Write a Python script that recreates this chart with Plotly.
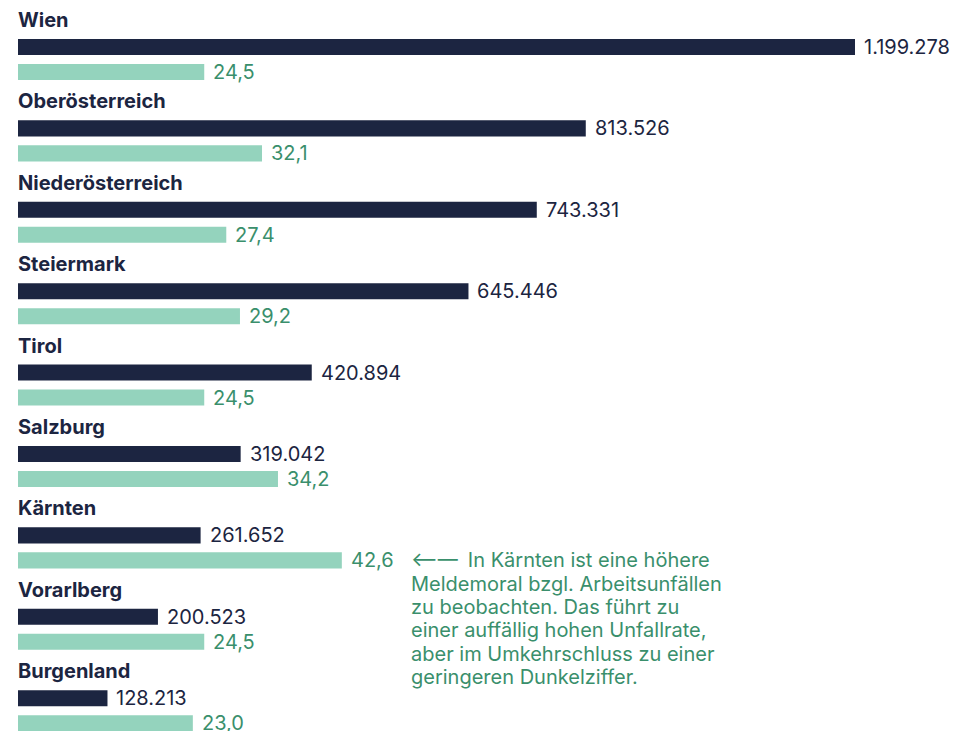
import plotly.graph_objects as go

regions = ["Wien", "Oberösterreich", "Niederösterreich", "Steiermark", "Tirol",
           "Salzburg", "Kärnten", "Vorarlberg", "Burgenland"]
workers = [1199278, 813526, 743331, 645446, 420894, 319042, 261652, 200523, 128213]
rates = [24.5, 32.1, 27.4, 29.2, 24.5, 34.2, 42.6, 24.5, 23.0]
note_lines = ["⟵—\u2002In Kärnten ist eine höhere",
              "Meldemoral bzgl. Arbeitsunfällen",
              "zu beobachten. Das führt zu",
              "einer auffällig hohen Unfallrate,",
              "aber im Umkehrschluss zu einer",
              "geringeren Dunkelziffer."]
note_region = "Kärnten"

DARK = "#1c2541"
GREEN_BAR = "#94d3bd"
GREEN_TXT = "#3a8f6c"
FONT = "Inter"

idx = list(range(len(regions)))
y_dark = [i for i in idx]
y_green = [i + 0.307 for i in idx]
y_title = [i - 0.332 for i in idx]

fig = go.Figure()
fig.add_trace(go.Bar(x=workers, y=y_dark, orientation="h", width=0.197,
                     marker=dict(color=DARK, line=dict(width=0)),
                     xaxis="x", yaxis="y", hoverinfo="skip"))
fig.add_trace(go.Bar(x=rates, y=y_green, orientation="h", width=0.197,
                     marker=dict(color=GREEN_BAR, line=dict(width=0)),
                     xaxis="x2", yaxis="y", hoverinfo="skip"))

def fmt_int(v):
    return f"{v:,}".replace(",", ".")

def fmt_rate(v):
    return f"{v:.1f}".replace(".", ",")

ann = []
for i, r in enumerate(regions):
    ann.append(dict(x=0, y=y_title[i], xref="x", yref="y", text=f"<b>{r}</b>",
                    showarrow=False, xanchor="left", yanchor="middle", xshift=-2,
                    font=dict(family=FONT, size=20, color=DARK)))
    ann.append(dict(x=workers[i], y=y_dark[i], xref="x", yref="y",
                    text=fmt_int(workers[i]), showarrow=False,
                    xanchor="left", yanchor="middle", xshift=7,
                    font=dict(family=FONT, size=20, color=DARK)))
    ann.append(dict(x=rates[i], y=y_green[i], xref="x2", yref="y",
                    text=fmt_rate(rates[i]), showarrow=False,
                    xanchor="left", yanchor="middle", xshift=7,
                    font=dict(family=FONT, size=20, color=GREEN_TXT)))

k = regions.index(note_region)
for j, line in enumerate(note_lines):
    ann.append(dict(x=rates[k], y=y_green[k], xref="x2", yref="y",
                    text=line, showarrow=False, xanchor="left", yanchor="middle",
                    xshift=67, yshift=-j * 23.3,
                    font=dict(family=FONT, size=20, color=GREEN_TXT)))

fig.update_layout(
    width=953, height=731,
    margin=dict(l=18, r=0, t=0, b=0),
    paper_bgcolor="white", plot_bgcolor="white",
    showlegend=False, barmode="overlay",
    xaxis=dict(range=[0, 1339700], visible=False, fixedrange=True),
    xaxis2=dict(range=[0, 123], overlaying="x", visible=False, fixedrange=True),
    yaxis=dict(range=[8.403, -0.577], visible=False, fixedrange=True),
    annotations=ann,
)

fig.write_html("out.html", config={"displayModeBar": False},
               post_script="document.body.style.margin='0';document.body.style.overflow='hidden';")
